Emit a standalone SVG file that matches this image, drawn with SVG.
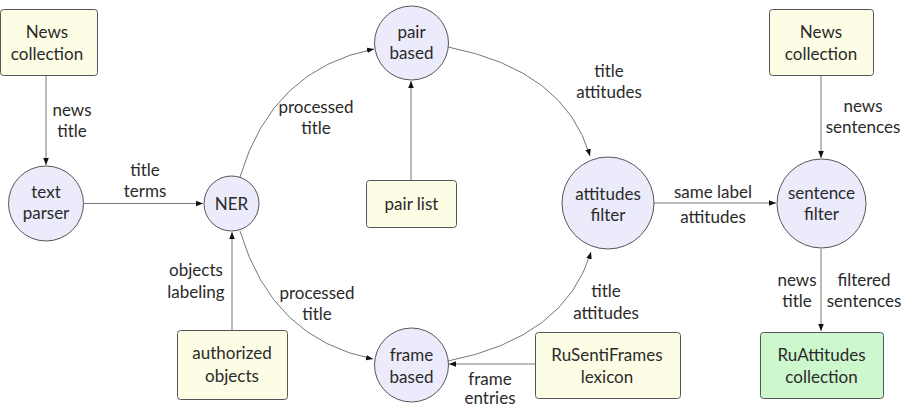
<svg xmlns="http://www.w3.org/2000/svg" width="907" height="408" viewBox="0 0 907 408">
  <style>
    text { font-family: Lato, "Open Sans", "DejaVu Sans", sans-serif; font-size: 17px; fill: #2a2a2a; text-anchor: middle; }
    .box { fill: #fdfde6; stroke: #555; stroke-width: 1; }
    .out { fill: #cdf7cd; stroke: #555; stroke-width: 1; }
    .proc { fill: #ebebfb; stroke: #555; stroke-width: 1; }
    .edge { fill: none; stroke: #777; stroke-width: 1; marker-end: url(#tip); }
  </style>
  <defs>
    <marker id="tip" viewBox="0 0 10 10" refX="10" refY="5" markerWidth="7" markerHeight="7" markerUnits="userSpaceOnUse" orient="auto">
      <path d="M0,1 L10,5 L0,9 Z" fill="#111"/>
    </marker>
  </defs>

  <!-- connectors -->
  <g id="connectors">
    <path class="edge" d="M46,76 L46,165"/>
    <path class="edge" d="M84,203.5 L203,203.5"/>
    <path class="edge" d="M232,331 L232,232"/>
    <path class="edge" d="M411,180 L411,81"/>
    <path class="edge" d="M654,203 L776,203"/>
    <path class="edge" d="M821,76 L821,158"/>
    <path class="edge" d="M821,249 L821,331"/>
    <path class="edge" d="M535,364 L449,364"/>
    <path class="edge" d="M240,177 Q272,69 374,49"/>
    <path class="edge" d="M448,47 Q565,70 590,156"/>
    <path class="edge" d="M240,231 Q272,339 373,359"/>
    <path class="edge" d="M448,361 Q565,338 591,252"/>

    <text x="72" y="116">news</text>
    <text x="72" y="137">title</text>
    <text x="145" y="176">title</text>
    <text x="145" y="197">terms</text>
    <text x="316" y="113">processed</text>
    <text x="316" y="134">title</text>
    <text x="609" y="77">title</text>
    <text x="609" y="98">attitudes</text>
    <text x="713" y="198">same label</text>
    <text x="713" y="223">attitudes</text>
    <text x="863" y="112">news</text>
    <text x="863" y="133">sentences</text>
    <text x="797" y="286">news</text>
    <text x="797" y="307">title</text>
    <text x="864" y="286">filtered</text>
    <text x="864" y="307">sentences</text>
    <text x="196" y="276">objects</text>
    <text x="196" y="298">labeling</text>
    <text x="317" y="299">processed</text>
    <text x="317" y="320">title</text>
    <text x="606" y="297">title</text>
    <text x="606" y="319">attitudes</text>
    <text x="490" y="385">frame</text>
    <text x="490" y="404">entries</text>
  </g>

  <g id="news-collection-left">
    <rect class="box" x="0.5" y="9.5" width="97" height="66" rx="3"/>
    <text x="47" y="38">News</text>
    <text x="47" y="60">collection</text>
  </g>
  <g id="text-parser">
    <circle class="proc" cx="46" cy="203.5" r="37.5"/>
    <text x="46" y="198">text</text>
    <text x="46" y="219">parser</text>
  </g>
  <g id="ner">
    <circle class="proc" cx="231.5" cy="203.5" r="27.5"/>
    <text x="231.5" y="210">NER</text>
  </g>
  <g id="authorized-objects">
    <rect class="box" x="177.5" y="330.5" width="110" height="69" rx="3"/>
    <text x="232" y="359">authorized</text>
    <text x="232" y="382">objects</text>
  </g>
  <g id="pair-based">
    <circle class="proc" cx="411.5" cy="43" r="37"/>
    <text x="411.5" y="38">pair</text>
    <text x="411.5" y="59">based</text>
  </g>
  <g id="pair-list">
    <rect class="box" x="366.5" y="180.5" width="90" height="47" rx="3"/>
    <text x="411.5" y="210">pair list</text>
  </g>
  <g id="frame-based">
    <circle class="proc" cx="411.5" cy="365" r="37"/>
    <text x="411.5" y="361">frame</text>
    <text x="411.5" y="383">based</text>
  </g>
  <g id="rusentiframes-lexicon">
    <rect class="box" x="535.5" y="332.5" width="145" height="66" rx="3"/>
    <text x="607" y="361">RuSentiFrames</text>
    <text x="607" y="383">lexicon</text>
  </g>
  <g id="attitudes-filter">
    <circle class="proc" cx="608" cy="203" r="46"/>
    <text x="608" y="200">attitudes</text>
    <text x="608" y="221">filter</text>
  </g>
  <g id="news-collection-right">
    <rect class="box" x="769.5" y="9.5" width="104" height="66" rx="3"/>
    <text x="821" y="38">News</text>
    <text x="821" y="60">collection</text>
  </g>
  <g id="sentence-filter">
    <circle class="proc" cx="821.5" cy="203.5" r="44.5"/>
    <text x="821.5" y="199">sentence</text>
    <text x="821.5" y="220">filter</text>
  </g>
  <g id="ruattitudes-collection">
    <rect class="out" x="760.5" y="332.5" width="123" height="66" rx="3"/>
    <text x="821.5" y="361">RuAttitudes</text>
    <text x="821.5" y="383">collection</text>
  </g>
</svg>
